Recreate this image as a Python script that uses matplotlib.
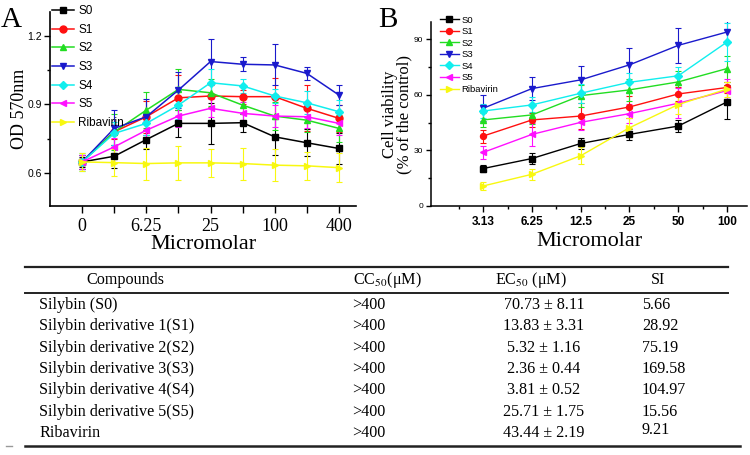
import matplotlib
matplotlib.use('Agg')
import matplotlib.pyplot as plt
import numpy as np

plt.rcParams['font.family'] = 'Liberation Serif'
plt.rcParams['mathtext.fontset'] = 'stix'

W, H = 750, 455

# ---- data, panel A (OD 570nm) ----
conc_a = ['0', '3.125', '6.25', '12.5', '25', '50', '100', '200', '400']
names = ['S0', 'S1', 'S2', 'S3', 'S4', 'S5', 'Ribavirin']
od = {
    'S0': [0.648, 0.673, 0.746, 0.817, 0.817, 0.820, 0.758, 0.732, 0.707],
    'S1': [0.648, 0.780, 0.846, 0.929, 0.937, 0.934, 0.934, 0.883, 0.839],
    'S2': [0.648, 0.780, 0.875, 0.966, 0.951, 0.897, 0.849, 0.831, 0.795],
    'S3': [0.648, 0.795, 0.846, 0.963, 1.088, 1.076, 1.073, 1.036, 0.941],
    'S4': [0.648, 0.773, 0.817, 0.897, 0.995, 0.981, 0.937, 0.907, 0.868],
    'S5': [0.648, 0.714, 0.787, 0.849, 0.883, 0.861, 0.849, 0.846, 0.817],
    'Ribavirin': [0.648, 0.645, 0.641, 0.644, 0.644, 0.641, 0.634, 0.631, 0.623],
}
od_err = {
    'S0': [0.02, 0.05, 0.04, 0.06, 0.09, 0.04, 0.08, 0.06, 0.07],
    'S1': [0.03, 0.03, 0.07, 0.10, 0.05, 0.03, 0.08, 0.10, 0.06],
    'S2': [0.03, 0.08, 0.08, 0.09, 0.06, 0.04, 0.06, 0.05, 0.06],
    'S3': [0.03, 0.08, 0.08, 0.08, 0.10, 0.03, 0.09, 0.03, 0.045],
    'S4': [0.04, 0.05, 0.05, 0.06, 0.06, 0.03, 0.03, 0.05, 0.05],
    'S5': [0.03, 0.04, 0.04, 0.05, 0.04, 0.05, 0.05, 0.05, 0.05],
    'Ribavirin': [0.04, 0.06, 0.07, 0.075, 0.06, 0.07, 0.07, 0.06, 0.065],
}

# ---- data, panel B (cell viability) ----
conc_b = ['3.13', '6.25', '12.5', '25', '50', '100']
via = {
    'S0': [20.2, 25.6, 33.7, 38.6, 43.1, 56.1],
    'S1': [37.7, 46.4, 48.5, 53.4, 60.4, 63.9],
    'S2': [46.4, 49.1, 59.5, 62.6, 66.9, 74.1],
    'S3': [52.7, 63.3, 68.0, 76.1, 86.6, 93.8],
    'S4': [51.2, 54.5, 60.8, 66.7, 70.2, 88.4],
    'S5': [28.9, 38.6, 45.1, 49.8, 55.4, 62.2],
    'Ribavirin': [10.8, 17.1, 27.1, 42.2, 54.7, 63.0],
}
via_err = {
    'S0': [2.0, 3.0, 3.0, 3.0, 3.0, 9.0],
    'S1': [3.5, 4.0, 7.0, 6.0, 4.0, 3.0],
    'S2': [4.0, 5.0, 6.0, 6.0, 6.0, 7.0],
    'S3': [7.0, 6.0, 7.5, 9.0, 9.5, 6.0],
    'S4': [4.0, 4.0, 5.0, 5.0, 5.0, 10.0],
    'S5': [3.5, 6.0, 4.0, 5.0, 8.0, 6.0],
    'Ribavirin': [2.0, 3.0, 4.5, 5.0, 5.0, 4.0],
}

# ---- table ----
tab_names = ['Silybin (S0)', 'Silybin derivative 1(S1)', 'Silybin derivative 2(S2)',
             'Silybin derivative 3(S3)', 'Silybin derivative 4(S4)',
             'Silybin derivative 5(S5)', 'Ribavirin']
tab_cc50 = ['>400'] * 7
tab_ec50 = ['70.73 ± 8.11', '13.83 ± 3.31', '5.32 ± 1.16', '2.36 ± 0.44',
            '3.81 ± 0.52', '25.71 ± 1.75', '43.44 ± 2.19']
tab_si = ['5.66', '28.92', '75.19', '169.58', '104.97', '15.56', '9.21']

colors = {'S0': 'black', 'S1': '#ff1010', 'S2': '#22dd22', 'S3': '#1a1acc',
          'S4': '#10eeee', 'S5': '#ff10ff', 'Ribavirin': '#f8f810'}
markers = {'S0': 's', 'S1': 'o', 'S2': '^', 'S3': 'v', 'S4': 'D', 'S5': '<',
           'Ribavirin': '>'}


def fx(px):
    return px / W


def fy(py):
    return 1 - py / H


fig = plt.figure(figsize=(7.5, 4.55), dpi=100)

# ---------------- panel A ----------------
axA = fig.add_axes([fx(50), fy(206), fx(356) - fx(50), fy(12) - fy(206)])
xa = np.arange(len(conc_a))
for n in names:
    axA.errorbar(xa, od[n], yerr=od_err[n], fmt='none', ecolor=colors[n],
                 elinewidth=0.8, capsize=2.2, capthick=0.8)
for n in names:
    axA.plot(xa, od[n], color=colors[n], marker=markers[n], lw=1.1,
             ms=5 if markers[n] != 'D' else 4.2, label=n)
axA.set_xlim(-1, 8.53)
axA.set_ylim(0.455, 1.305)
axA.set_xticks(xa)
axA.set_xticklabels([c if i % 2 == 0 else '' for i, c in enumerate(conc_a)],
                    fontsize=13)
axA.set_yticks([0.6, 0.9, 1.2])
axA.set_yticks([0.75, 1.05], minor=True)
axA.set_yticklabels(['0.6', '0.9', '1.2'], fontsize=7.5, family='Liberation Sans')
axA.tick_params(axis='x', length=5, width=1, pad=4)
axA.tick_params(axis='y', which='major', length=4, width=1, pad=2)
axA.tick_params(axis='y', which='minor', length=2.5, width=1)
axA.spines['top'].set_visible(False)
axA.spines['right'].set_visible(False)
axA.spines['left'].set_linewidth(1.2)
axA.spines['bottom'].set_linewidth(1.2)
axA.set_xlabel('Micromolar', fontsize=16, labelpad=0)
axA.set_ylabel('OD 570nm', fontsize=13, labelpad=-1)
axA.legend(loc='upper left', bbox_to_anchor=(0.005, 1.035), frameon=False,
           borderpad=0, borderaxespad=0, handlelength=1.9,
           handletextpad=0.35, labelspacing=0.56,
           prop={'family': 'Liberation Sans', 'size': 8.5})
fig.text(fx(1), fy(27), 'A', fontsize=21)

# ---------------- panel B ----------------
axB = fig.add_axes([fx(431), fy(206), fx(747) - fx(431), fy(22) - fy(206)])
xb = np.arange(len(conc_b))
for n in names:
    axB.errorbar(xb, via[n], yerr=via_err[n], fmt='none', ecolor=colors[n],
                 elinewidth=0.8, capsize=2, capthick=0.8)
for n in names:
    axB.plot(xb, via[n], color=colors[n], marker=markers[n], lw=1.0,
             ms=4.3 if markers[n] != 'D' else 3.6, label=n)
axB.set_xlim(-1.07, 5.41)
axB.set_ylim(0, 99.2)
axB.set_xticks(xb)
axB.set_xticks(np.arange(-0.5, 5.0, 1.0), minor=True)
axB.set_xticklabels(conc_b, fontsize=8.5, family='Liberation Sans', weight='bold')
axB.set_yticks([0, 30, 60, 90])
axB.set_yticks([15, 45, 75], minor=True)
axB.set_yticklabels(['0', '30', '60', '90'], fontsize=6, family='Liberation Sans')
axB.tick_params(axis='x', which='major', length=4, width=1, pad=3)
axB.tick_params(axis='x', which='minor', length=2.5, width=1)
axB.tick_params(axis='y', which='major', length=3.5, width=1, pad=2)
axB.tick_params(axis='y', which='minor', length=2, width=1)
axB.spines['top'].set_visible(False)
axB.spines['right'].set_visible(False)
axB.spines['left'].set_linewidth(1.1)
axB.spines['bottom'].set_linewidth(1.1)
axB.set_xlabel('Micromolar', fontsize=16, labelpad=3)
axB.set_ylabel('Cell viability\n(% of the control)', fontsize=12,
               linespacing=0.85, labelpad=1)
axB.legend(loc='upper left', bbox_to_anchor=(0.028, 1.035), frameon=False,
           borderpad=0, borderaxespad=0, handlelength=2.0,
           handletextpad=0.3, labelspacing=0.27,
           prop={'family': 'Liberation Sans', 'size': 6.8})
fig.text(fx(378), fy(27), 'B', fontsize=21)

# ---------------- table ----------------
fig.add_artist(plt.Line2D([fx(25), fx(728)], [fy(267), fy(267)], color='#222222', lw=1.6))
fig.add_artist(plt.Line2D([fx(25), fx(728)], [fy(293), fy(293)], color='#222222', lw=1.4))
fig.add_artist(plt.Line2D([fx(25), fx(740)], [fy(446), fy(446)], color='#222222', lw=1.8))
fig.add_artist(plt.Line2D([fx(6), fx(12)], [fy(446), fy(446)], color='#999999', lw=1))

fs_tab = 11.6
fig.text(fx(125), fy(280), 'Compounds', fontsize=fs_tab, ha='center', va='center')
fig.text(fx(353), fy(280), 'CC$_{50}$(μM)', fontsize=fs_tab, ha='left', va='center')
fig.text(fx(495), fy(280), 'EC$_{50}$ (μM)', fontsize=fs_tab, ha='left', va='center')
fig.text(fx(658), fy(280), 'SI', fontsize=fs_tab, ha='center', va='center')

row_y0, row_dy = 305, 21.3
for i in range(len(tab_names)):
    ypx = row_y0 + i * row_dy
    fig.text(fx(39), fy(ypx), tab_names[i], fontsize=fs_tab, ha='left', va='center')
    fig.text(fx(352), fy(ypx), tab_cc50[i], fontsize=fs_tab, ha='left', va='center')
    fig.text(fx(544), fy(ypx), tab_ec50[i], fontsize=fs_tab, ha='center', va='center')
    si_px = ypx - 3 if i == 6 else ypx
    fig.text(fx(642), fy(si_px), tab_si[i], fontsize=fs_tab, ha='left', va='center')

fig.savefig('out.png', dpi=100)
